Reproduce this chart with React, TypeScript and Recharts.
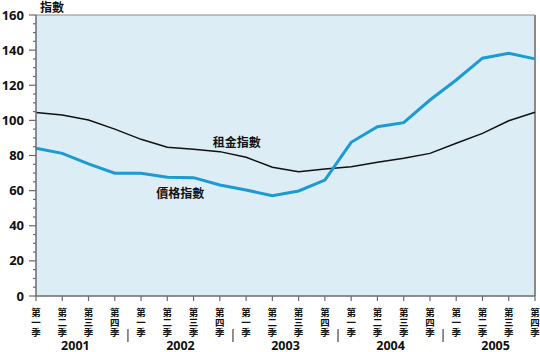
import React from 'react';
import { LineChart, Line, XAxis, YAxis, CartesianGrid, ReferenceLine, ReferenceDot } from 'recharts';

const categories = [
  '2001-1', '2001-2', '2001-3', '2001-4',
  '2002-1', '2002-2', '2002-3', '2002-4',
  '2003-1', '2003-2', '2003-3', '2003-4',
  '2004-1', '2004-2', '2004-3', '2004-4',
  '2005-1', '2005-2', '2005-3', '2005-4',
];
const years = ['2001', '2002', '2003', '2004', '2005'];
const quarterLabels = ['第一季', '第二季', '第三季', '第四季'];

const rentIndex = [104.5, 103, 100.2, 95, 89.2, 84.7, 83.5, 82.2, 79, 73.3, 70.8, 72.3, 73.6, 76.1, 78.4, 81.2, 87, 92.6, 99.8, 104.6];
const priceIndex = [84.1, 81.2, 75.2, 69.9, 69.9, 67.6, 67.4, 63.2, 60.4, 57.1, 59.8, 66, 87.5, 96.4, 98.7, 111.6, 123, 135.4, 138.2, 135];

const yTicks = [0, 5, 10, 15, 20, 25, 30, 35, 40, 45, 50, 55, 60, 65, 70, 75, 80, 85, 90, 95, 100, 105, 110, 115, 120, 125, 130, 135, 140, 145, 150, 155, 160];

const data = categories.map((c, i) => ({ name: c, rent: rentIndex[i], price: priceIndex[i] }));

const FONT = '"Open Sans", "Noto Sans CJK TC", sans-serif';
const AXIS = '#6b6b6b';
const BLUE = '#1c9ad3';

const W = 540;
const H = 352;
const LEFT = 36;
const RIGHT = 5;
const STEP = (W - LEFT - RIGHT) / (categories.length - 1);

const YTick = (props: any) => {
  const { x, y, payload } = props;
  const major = payload.value % 20 === 0;
  return (
    <g>
      <line x1={x - (major ? 7 : 3)} x2={x} y1={y} y2={y} stroke={AXIS} strokeWidth={1.2} />
      {major && (
        <text x={x - 12} y={y} dy={4.5} textAnchor="end" fontSize={13} fontWeight={700} fill="#111" fontFamily={FONT}>
          {payload.value}
        </text>
      )}
    </g>
  );
};

const XTick = (props: any) => {
  const { x, y, index } = props;
  const q = index % 4;
  const chars = quarterLabels[q].split('');
  const yr = years[Math.floor(index / 4)];
  return (
    <g>
      <line x1={x} x2={x} y1={y} y2={y + 5} stroke={AXIS} strokeWidth={1.2} />
      {chars.map((ch, k) => (
        <text key={k} x={x} y={y + 20 + k * 10} textAnchor="middle" fontSize={9.5} fontWeight={700} fill="#111" fontFamily={FONT}>
          {ch}
        </text>
      ))}
      {q === 1 && (
        <text x={x + STEP / 2} y={y + 54} textAnchor="middle" fontSize={12.5} fontWeight={700} fill="#111" fontFamily={FONT}>
          {yr}
        </text>
      )}
      {q === 3 && index < categories.length - 1 && (
        <line x1={x + STEP / 2} x2={x + STEP / 2} y1={y + 33} y2={y + 46} stroke={AXIS} strokeWidth={1.5} />
      )}
    </g>
  );
};

const App: React.FC = () => {
  return (
    <div style={{ position: 'absolute', left: 0, top: 0, width: W, height: H, background: '#fff' }}>
      <div style={{ position: 'absolute', left: 40, top: 0, fontSize: 12, fontWeight: 700, fontFamily: FONT, color: '#111', lineHeight: '15px' }}>
        指數
      </div>
      <LineChart width={W} height={H} data={data} margin={{ top: 15, right: RIGHT, bottom: 0, left: 0 }}>
        <CartesianGrid horizontal={false} vertical={false} fill="#dcedf5" stroke="none" />
        <XAxis
          dataKey="name"
          height={56}
          interval={0}
          tickSize={0}
          tickMargin={0}
          tickLine={false}
          axisLine={{ stroke: AXIS, strokeWidth: 1.5 }}
          tick={<XTick />}
        />
        <YAxis
          width={LEFT}
          domain={[0, 160]}
          ticks={yTicks}
          interval={0}
          tickSize={0}
          tickMargin={0}
          tickLine={false}
          axisLine={{ stroke: AXIS, strokeWidth: 1.5 }}
          tick={<YTick />}
        />
        <ReferenceLine y={160} stroke="#8a8a8a" strokeWidth={1} />
        <ReferenceLine x={categories[categories.length - 1]} stroke="#8a8a8a" strokeWidth={2} />
        <Line type="linear" dataKey="rent" stroke="#111" strokeWidth={1.5} dot={false} isAnimationActive={false} />
        <Line type="linear" dataKey="price" stroke={BLUE} strokeWidth={3} dot={false} isAnimationActive={false} />
        <ReferenceDot
          x={categories[7]}
          y={87}
          r={0}
          fill="none"
          stroke="none"
          label={{ value: '租金指數', dx: 17, fontSize: 12, fontWeight: 700, fill: '#111', fontFamily: FONT, position: 'center' }}
        />
        <ReferenceDot
          x={categories[5]}
          y={58}
          r={0}
          fill="none"
          stroke="none"
          label={{ value: '價格指數', dx: 13, fontSize: 12, fontWeight: 700, fill: '#111', fontFamily: FONT, position: 'center' }}
        />
      </LineChart>
    </div>
  );
};

export default App;
